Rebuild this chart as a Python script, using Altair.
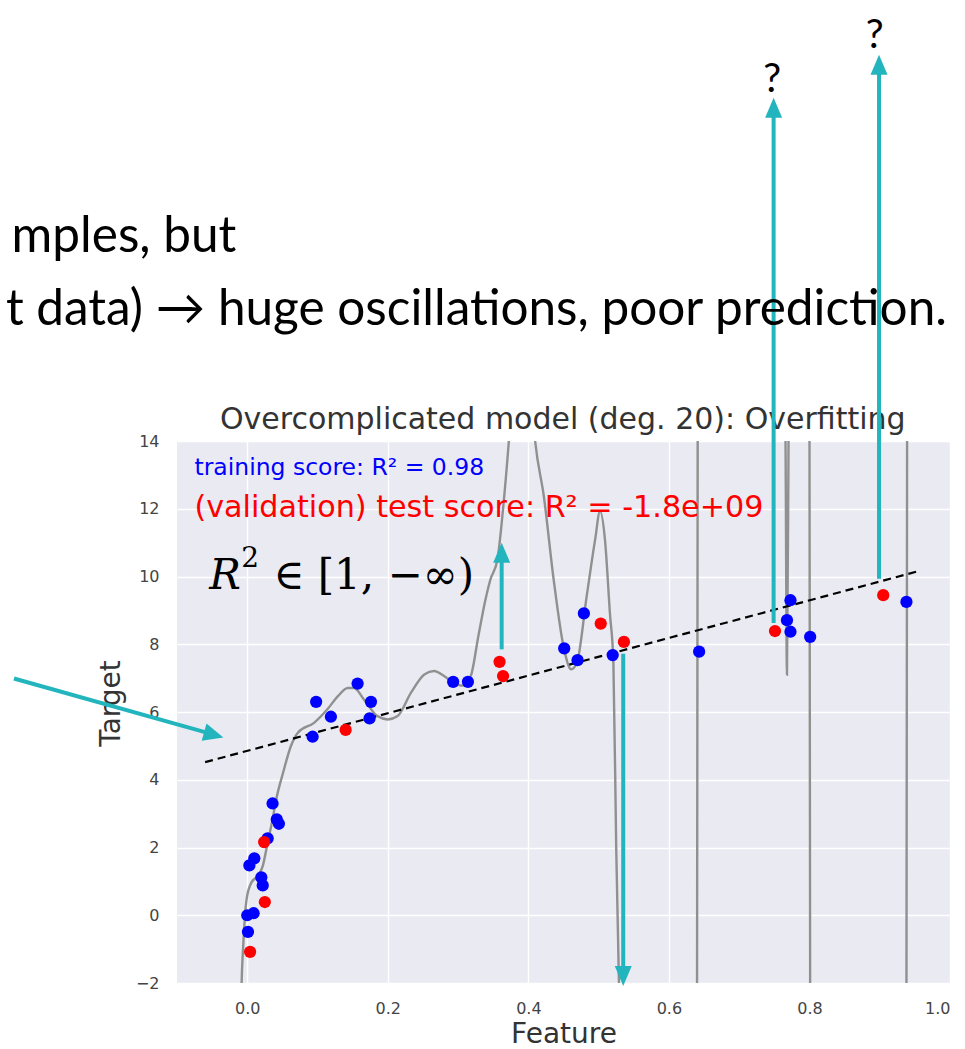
import altair as alt
import pandas as pd

# ---------------- data ----------------
train_x = [0.001, 0.000, 0.009, 0.003, 0.010, 0.020, 0.022, 0.029, 0.036, 0.042, 0.045,
           0.093, 0.098, 0.119, 0.157, 0.176, 0.174, 0.293, 0.314,
           0.451, 0.470, 0.479, 0.520, 0.643, 0.768, 0.773, 0.773, 0.801, 0.938]
train_y = [-0.49, 0.00, 0.06, 1.47, 1.68, 1.12, 0.88, 2.27, 3.30, 2.83, 2.70,
           5.27, 6.30, 5.86, 6.84, 6.30, 5.81, 6.89, 6.89,
           7.88, 7.53, 8.91, 7.68, 7.78, 8.71, 9.30, 8.37, 8.22, 9.25]

test_x = [0.004, 0.025, 0.024, 0.140, 0.359, 0.364, 0.503, 0.536, 0.751, 0.905]
test_y = [-1.08, 0.39, 2.16, 5.47, 7.48, 7.06, 8.61, 8.07, 8.39, 9.45]

# degree-20 polynomial fit, traced (values off the frame shoot to +/- infinity)
curve_x = [-0.009, -0.008, -0.006, -0.001, 0.006, 0.015, 0.022, 0.029, 0.036, 0.041,
           0.051, 0.062, 0.072, 0.095, 0.114, 0.129, 0.143, 0.152, 0.166, 0.185,
           0.200, 0.214, 0.233, 0.252, 0.266, 0.280, 0.294, 0.306, 0.318, 0.329,
           0.339, 0.346, 0.356, 0.364, 0.372, 0.390, 0.410, 0.422, 0.436, 0.450,
           0.461, 0.469, 0.483, 0.495, 0.502, 0.509, 0.516, 0.521, 0.525, 0.530,
           0.585, 0.640, 0.641, 0.700, 0.7655, 0.768, 0.7705, 0.785, 0.800, 0.801,
           0.870, 0.938, 0.939, 0.950]
curve_y = [-3.0, -1.97, -1.00, 0.47, 0.97, 1.16, 1.45, 2.14, 2.83, 3.40,
           4.21, 4.99, 5.39, 5.68, 6.08, 6.47, 6.71, 6.71, 6.37, 5.88,
           5.78, 5.88, 6.57, 7.11, 7.21, 7.06, 6.86, 6.78, 7.06, 8.26,
           9.32, 9.91, 10.50, 12.00, 13.94, 20.0, 13.94, 12.37, 9.91, 7.94,
           7.26, 7.45, 9.42, 11.09, 11.93, 11.09, 8.93, 7.45, 2.00, -3.0,
           -40.0, -3.0, 15.0, 40.0, 15.0, 7.10, 15.0, 40.0, 15.0, -3.0,
           -40.0, -3.0, 15.0, 30.0]

true_x = [-0.060, 0.952]
true_y = [4.52, 10.14]

x_ticks = [0.0, 0.2, 0.4, 0.6, 0.8, 1.0]
y_ticks = [-2, 0, 2, 4, 6, 8, 10, 12, 14]

# slide annotations (in the plot's data units)
arrow_x = [0.362, 0.535, 0.749, 0.899, -0.332]
arrow_y = [7.85, 7.72, 8.63, 9.93, 6.99]
arrow_x2 = [0.362, 0.535, 0.749, 0.899, -0.059]
arrow_y2 = [10.50, -1.59, 23.63, 24.90, 5.40]
head_up_x = [0.362, 0.749, 0.899]
head_up_y = [11.00, 24.13, 25.40]
head_down_x = [0.535]
head_down_y = [-2.09]
head_diag_x = [-0.034]
head_diag_y = [5.25]

TEAL = "#23B5BE"
X = alt.Scale(domain=[-0.1, 1.0], nice=False, zero=False)
Y = alt.Scale(domain=[-2, 14], nice=False, zero=False)

points = pd.DataFrame({
    "x": train_x + test_x,
    "y": train_y + test_y,
    "set": ["train"] * len(train_x) + ["test"] * len(test_x),
})

x_axis = alt.Axis(values=x_ticks, format=".1f", title="Feature", grid=True,
                  gridColor="white", gridWidth=1.4, domain=False, ticks=False,
                  tickSize=0, labelPadding=17, labelFontSize=16, labelColor="#444444",
                  labelFont="DejaVu Sans", titleFont="DejaVu Sans", titleFontSize=28,
                  titleFontWeight="normal", titleColor="#333333", titlePadding=4)
y_axis = alt.Axis(values=y_ticks, title="Target", grid=True,
                  gridColor="white", gridWidth=1.4, domain=False, ticks=False,
                  tickSize=0, labelPadding=18, labelFontSize=16, labelColor="#444444",
                  labelExpr="datum.value < 0 ? '\u2212' + abs(datum.value) : datum.label",
                  labelFont="DejaVu Sans", titleFont="DejaVu Sans", titleFontSize=28,
                  titleFontWeight="normal", titleColor="#333333", titlePadding=10,
                  titleY=262)

curve = alt.Chart(pd.DataFrame({"x": curve_x, "y": curve_y})).mark_line(
    color="#909090", strokeWidth=2.4, clip=True, interpolate="monotone"
).encode(
    x=alt.X("x:Q", scale=X, axis=x_axis),
    y=alt.Y("y:Q", scale=Y, axis=y_axis),
    order="x:Q",
)

truth = alt.Chart(pd.DataFrame({"x": true_x, "y": true_y})).mark_line(
    color="black", strokeWidth=2.2, strokeDash=[8, 5]
).encode(x=alt.X("x:Q", scale=X), y=alt.Y("y:Q", scale=Y))

dots = alt.Chart(points).mark_circle(size=150, opacity=1).encode(
    x=alt.X("x:Q", scale=X),
    y=alt.Y("y:Q", scale=Y),
    color=alt.Color("set:N", scale=alt.Scale(domain=["train", "test"],
                                             range=["#0000FF", "#FF0000"]), legend=None),
    order=alt.Order("set:N", sort="descending"),
)

def label(x, y, text, **kw):
    return alt.Chart(pd.DataFrame({"x": [x], "y": [y], "t": [text]})).mark_text(
        baseline="alphabetic", **kw
    ).encode(x=alt.X("x:Q", scale=X), y=alt.Y("y:Q", scale=Y), text="t:N")

title_txt = label(0.449, 14.34, "Overcomplicated model (deg. 20): Overfitting", align="center",
                  font="DejaVu Sans", fontSize=30, color="#333333")
train_txt = label(-0.0752, 13.01, "training score: R² = 0.98", align="left",
                  font="DejaVu Sans", fontSize=23.5, color="#0000FF")
test_txt = label(-0.0752, 11.77, "(validation) test score: R² = -1.8e+09", align="left",
                 font="DejaVu Sans", fontSize=30.2, color="#FF0000")
r_txt = label(-0.054, 9.62, "R", align="left", font="DejaVu Serif", fontSize=42,
              fontStyle="italic", color="black")
r_sup = label(-0.0085, 10.27, "2", align="left", font="DejaVu Serif", fontSize=28,
              color="black")
r_rest = label(0.037, 9.62, "∈ [1, −∞)", align="left", font="DejaVu Serif",
               fontSize=42, color="black")
slide1 = label(-0.0156, 19.59, "mples, but", align="right", font="Lato",
               fontSize=49.5, color="black")
slide2 = label(0.9957, 17.43, "t data) → huge oscillations, poor prediction.", align="right",
               font="Lato", fontSize=49.5, color="black")
q1 = label(0.747, 24.3, "?", align="center", font="Lato", fontSize=40, color="black")
q2 = label(0.893, 25.6, "?", align="center", font="Lato", fontSize=40, color="black")

arrows = alt.Chart(pd.DataFrame({"x": arrow_x, "y": arrow_y, "x2": arrow_x2, "y2": arrow_y2})
                   ).mark_rule(color=TEAL, strokeWidth=4).encode(
    x=alt.X("x:Q", scale=X), y=alt.Y("y:Q", scale=Y), x2="x2:Q", y2="y2:Q")

up_heads = alt.Chart(pd.DataFrame({"x": head_up_x, "y": head_up_y})).mark_point(
    shape="M0,0L-0.85,2L0.85,2Z", size=400, filled=True, opacity=1, color=TEAL
).encode(x=alt.X("x:Q", scale=X), y=alt.Y("y:Q", scale=Y))
down_heads = alt.Chart(pd.DataFrame({"x": head_down_x, "y": head_down_y})).mark_point(
    shape="M0,0L-0.85,-2L0.85,-2Z", size=400, filled=True, opacity=1, color=TEAL
).encode(x=alt.X("x:Q", scale=X), y=alt.Y("y:Q", scale=Y))
diag_heads = alt.Chart(pd.DataFrame({"x": head_diag_x, "y": head_diag_y})).mark_point(
    shape="M0,0L-2,-0.9L-2,0.9Z", size=400, filled=True, opacity=1, color=TEAL, angle=15.4
).encode(x=alt.X("x:Q", scale=X), y=alt.Y("y:Q", scale=Y))

chart = alt.layer(
    curve, truth, dots, title_txt, train_txt, test_txt, r_txt, r_sup, r_rest,
    arrows, up_heads, down_heads, diag_heads, slide1, slide2, q1, q2
).properties(
    width=773, height=542,
    background="white",
    padding={"left": 177, "top": 441, "right": 15, "bottom": 66},
    autosize=alt.AutoSizeParams(type="none"),
).configure_view(fill="#EAEAF2", stroke=None)

chart.save("out.html", embed_options={"renderer": "svg", "actions": False})
